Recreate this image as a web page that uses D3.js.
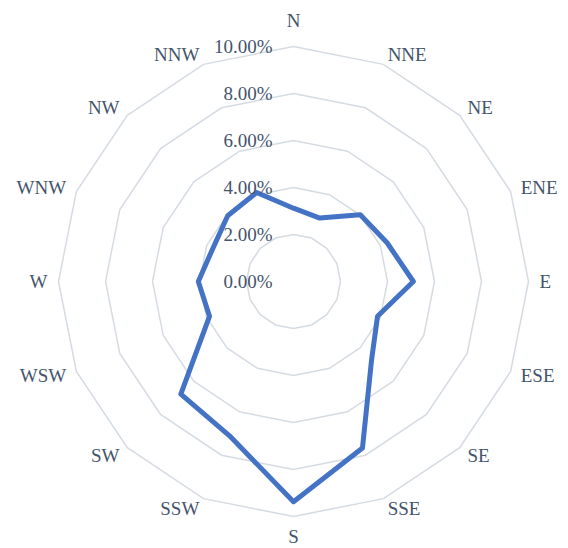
<!DOCTYPE html>
<html>
<head>
<meta charset="utf-8">
<script src="https://cdn.jsdelivr.net/npm/d3@7"></script>
<style>
	body { margin: 0; background: #fff; }
	svg { display: block; }
	text { fill: #44546A; }
</style>
</head>
<body>
<svg id="chart" width="568" height="548" font-family="'Liberation Serif', 'Times New Roman', Times, 'DejaVu Serif', serif"></svg>
<script>
var directions = ['N', 'NNE', 'NE', 'ENE', 'E', 'ESE', 'SE', 'SSE', 'S', 'SSW', 'SW', 'WSW', 'W', 'WNW', 'NW', 'NNW'];
var frequency = [3.12, 2.92, 4.02, 4.31, 5.10, 3.87, 4.70, 7.67, 9.37, 7.11, 6.78, 3.87, 4.05, 3.71, 3.96, 4.10];
var ticks = [0, 2, 4, 6, 8, 10];

var svg = d3.select('#chart'),
	cx = 293.5,
	cy = 281.5,
	outerR = 235;

var r = d3.scaleLinear().domain([0, 10]).range([0, outerR]);
var angle = d3.scalePoint().domain(directions).range([0, 2 * Math.PI * 15 / 16]);

var g = svg.append('g').attr('transform', 'translate(' + [cx, cy] + ')');

var radial = d3.lineRadial()
	.angle(function (d) { return angle(d.dir); })
	.radius(function (d) { return r(d.value); })
	.curve(d3.curveLinearClosed);

// grid rings
g.selectAll('.ring')
	.data(ticks.filter(function (t) { return t > 0; }))
	.enter().append('path')
	.attr('class', 'ring')
	.attr('d', function (t) {
		return radial(directions.map(function (dir) { return { dir: dir, value: t }; }));
	})
	.attr('fill', 'none')
	.attr('stroke', '#D5DBE2')
	.attr('stroke-width', 1.5);

// series
g.append('path')
	.datum(directions.map(function (dir, i) { return { dir: dir, value: frequency[i] }; }))
	.attr('d', radial)
	.attr('fill', 'none')
	.attr('stroke', '#4472C4')
	.attr('stroke-width', 5)
	.attr('stroke-linejoin', 'round');

// tick labels
g.selectAll('.tick')
	.data(ticks)
	.enter().append('text')
	.attr('class', 'tick')
	.attr('x', -21)
	.attr('y', function (t) { return -r(t); })
	.attr('text-anchor', 'end')
	.attr('dominant-baseline', 'central')
	.style('font-size', '19px')
	.text(function (t) { return t.toFixed(2) + '%'; });

// category labels: near edge sits on the axis point, N and S pushed out by half a line
g.selectAll('.cat')
	.data(directions)
	.enter().append('text')
	.attr('class', 'cat')
	.attr('text-anchor', 'middle')
	.attr('dominant-baseline', 'central')
	.style('font-size', '19px')
	.text(function (d) { return d; })
	.each(function (d) {
		var a = angle(d),
			box = this.getBBox(),
			R = outerR + 11,
			s = Math.sin(a),
			c = Math.cos(a),
			x, y;
		if (Math.abs(s) < 0.01) {
			x = 0;
			y = c > 0 ? -(R + 15) : R + 9;
		} else {
			x = s * R + (s > 0 ? 1 : -1) * box.width / 2;
			y = -c * R;
		}
		d3.select(this).attr('x', x).attr('y', y);
	});
</script>
</body>
</html>
